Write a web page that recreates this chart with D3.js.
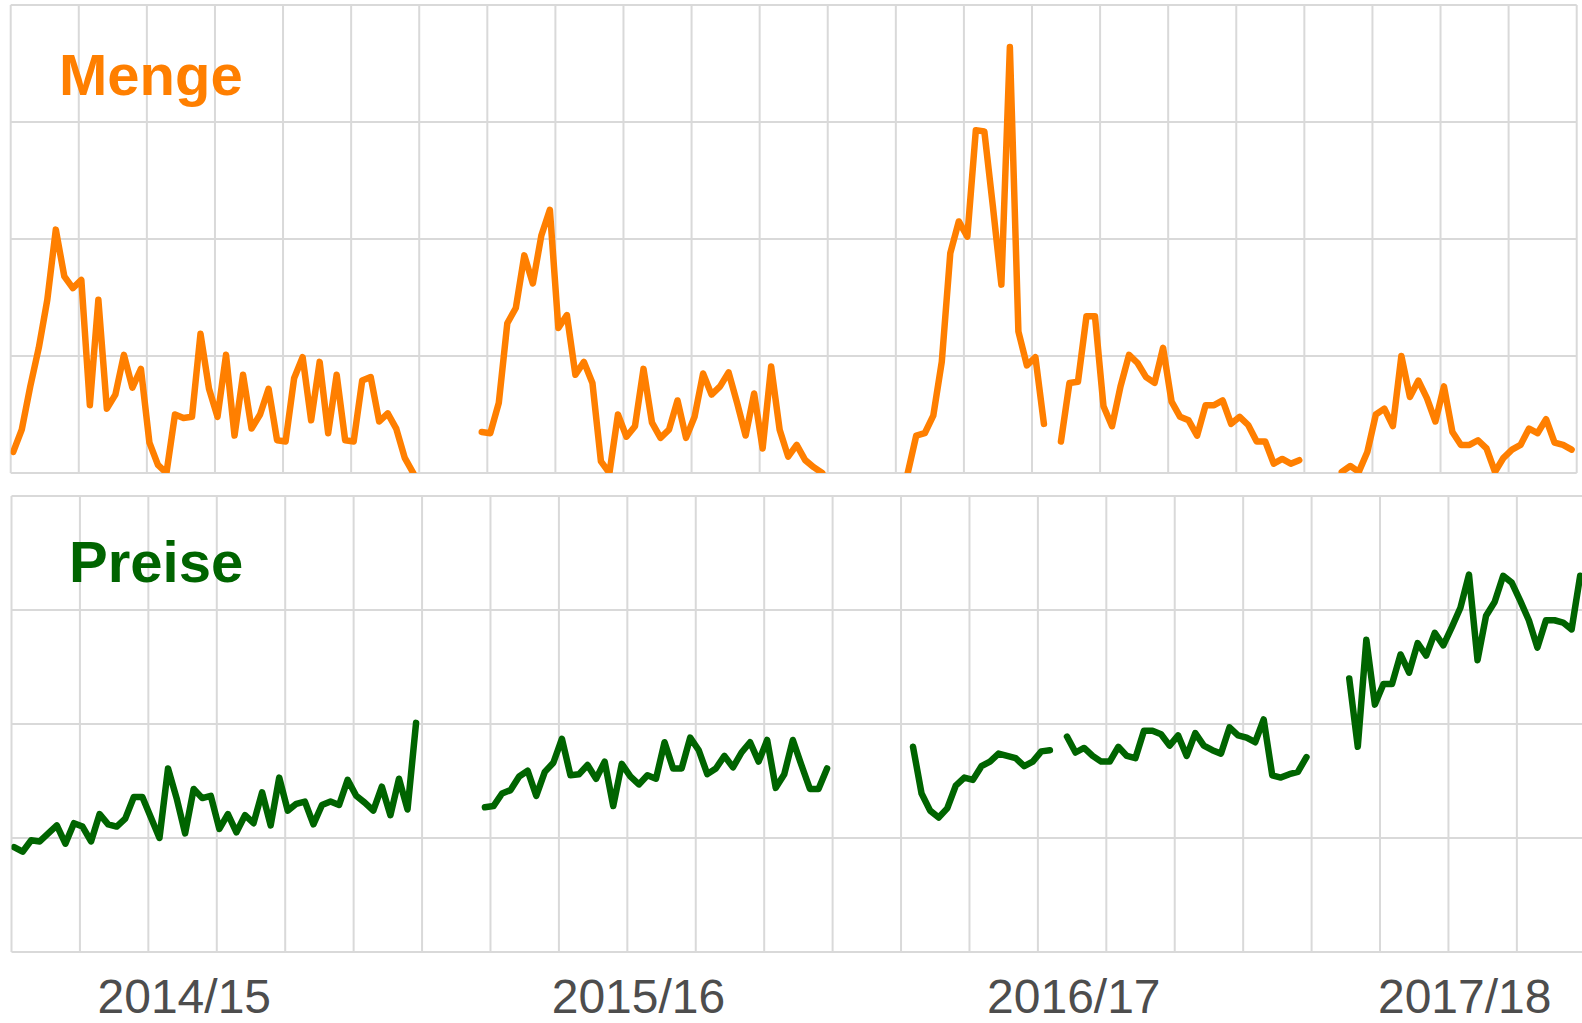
<!DOCTYPE html>
<html>
<head>
<meta charset="utf-8">
<script src="https://cdn.jsdelivr.net/npm/d3@7"></script>
<style>
  html, body { margin: 0; padding: 0; background: #fff; }
  text { font-family: "Liberation Sans", Arial, sans-serif; }
</style>
</head>
<body>
<svg id="chart" width="1582" height="1023"></svg>
<script>
// seasons and where (in weeks) they start on the x axis
const seasons = ["2014/15", "2015/16", "2016/17", "2017/18"];
const seasonStart = [0.3, 55.35, 105.4, 156.4];
const labelWeek = [20.2, 73.3, 124.2, 169.9];

// Menge (weekly), null = missing week
const mengeS1 = [18,37,74,107,148,208,168,158,165,58,148,55,67,101,73,89,26,7,0,50,47,48,119,72,48,101,32,84,38,50,72,28,27,81,99,45,95,34,84,28,27,79,82,44,51,38,13,0];
const mengeS2 = [35,34,60,128,141,186,162,203,225,124,135,84,95,77,10,0,50,31,40,89,43,30,37,62,30,48,85,67,74,86,60,32,68,21,91,37,14,24,11,5,0];
const mengeS3 = [0,32,34,49,95,188,215,202,293,292,228,161,364,121,92,99,42,null,27,77,78,134,134,57,40,74,101,94,82,77,107,61,48,45,32,58,58,62,42,48,41,27,27,8,12,8,11];
const mengeS4 = [1,6,1,18,50,55,40,100,65,79,64,44,74,35,24,24,28,21,1,13,20,24,38,34,46,26,24,20];

// Preise (weekly)
const preiseS1 = [0.92,0.88,0.98,0.97,1.04,1.11,0.95,1.13,1.10,0.97,1.21,1.12,1.10,1.17,1.36,1.36,1.18,1.00,1.61,1.35,1.04,1.43,1.35,1.37,1.08,1.21,1.05,1.20,1.13,1.40,1.11,1.53,1.24,1.30,1.32,1.12,1.29,1.32,1.29,1.51,1.37,1.31,1.24,1.45,1.20,1.52,1.25,2.01];
const preiseS2 = [1.27,1.28,1.39,1.42,1.54,1.59,1.37,1.58,1.66,1.87,1.55,1.56,1.64,1.52,1.67,1.28,1.65,1.54,1.47,1.55,1.52,1.84,1.61,1.61,1.88,1.77,1.56,1.61,1.72,1.62,1.75,1.84,1.67,1.86,1.44,1.56,1.86,1.64,1.43,1.43,1.61];
const preiseS3 = [1.80,1.39,1.24,1.18,1.26,1.46,1.53,1.51,1.63,1.67,1.74,1.72,1.70,1.63,1.67,1.76,1.77,null,1.89,1.75,1.79,1.72,1.67,1.67,1.80,1.72,1.70,1.94,1.94,1.91,1.81,1.90,1.72,1.92,1.81,1.77,1.74,1.97,1.90,1.88,1.84,2.04,1.55,1.53,1.56,1.58,1.71];
const preiseS4 = [2.40,1.80,2.74,2.17,2.35,2.35,2.61,2.45,2.71,2.60,2.80,2.69,2.85,3.02,3.31,2.56,2.95,3.07,3.30,3.24,3.08,2.91,2.67,2.91,2.91,2.89,2.83,3.30];

const mengeTicks = [0, 100, 200, 300, 400];
const preiseTicks = [0, 1, 2, 3, 4];
const weekTicks = d3.range(0, 185, 8);

const svg = d3.select("#chart");
svg.append("rect").attr("width", 1582).attr("height", 1023).attr("fill", "#fff");

const gridColor = "#d9d9d9";

// turn season arrays into {week, value} points
const toPoints = (arr, s) => arr.map((v, i) => ({ week: seasonStart[s] + i, value: v }));

let drawPanel = (opts) => {
  const { id, xScale, yScale, yTicks, series, color, title, titleX, titleY } = opts;
  const [x0, x1] = xScale.range();
  const [y0, y1] = yScale.range(); // bottom, top

  const g = svg.append("g").attr("class", id);

  g.append("clipPath").attr("id", "clip-" + id)
    .append("rect")
    .attr("x", x0).attr("y", y1)
    .attr("width", x1 - x0).attr("height", y0 - y1);

  // horizontal grid
  g.selectAll(".hgrid").data(yTicks).enter().append("line")
    .attr("x1", x0).attr("x2", x1)
    .attr("y1", d => yScale(d)).attr("y2", d => yScale(d))
    .attr("stroke", gridColor).attr("stroke-width", 2);

  // vertical grid
  g.selectAll(".vgrid").data(weekTicks).enter().append("line")
    .attr("x1", d => xScale(d)).attr("x2", d => xScale(d))
    .attr("y1", y1).attr("y2", y0)
    .attr("stroke", gridColor).attr("stroke-width", 2);

  g.append("text")
    .attr("x", titleX).attr("y", titleY)
    .attr("font-size", 58).attr("font-weight", "bold")
    .attr("fill", color)
    .text(title);

  const line = d3.line()
    .defined(d => d.value != null)
    .x(d => xScale(d.week))
    .y(d => yScale(d.value));

  g.append("g").attr("clip-path", `url(#clip-${id})`)
    .selectAll("path").data(series).enter().append("path")
    .attr("d", line)
    .attr("fill", "none")
    .attr("stroke", color)
    .attr("stroke-width", 6.5)
    .attr("stroke-linejoin", "round")
    .attr("stroke-linecap", "round");
};

// top panel: Menge
const xTop = d3.scaleLinear().domain([0, 184]).range([10.7, 1576.7]);
const yTop = d3.scaleLinear().domain([0, 400]).range([473, 5]);
drawPanel({
  id: "menge", xScale: xTop, yScale: yTop, yTicks: mengeTicks,
  series: [mengeS1, mengeS2, mengeS3, mengeS4].map(toPoints),
  color: "#ff7f00", title: "Menge", titleX: 59, titleY: 95
});

// bottom panel: Preise (runs past the right edge)
const xBot = d3.scaleLinear().domain([0, 184]).range([11.5, 1585.3]);
const yBot = d3.scaleLinear().domain([0, 4]).range([952, 496]);
drawPanel({
  id: "preise", xScale: xBot, yScale: yBot, yTicks: preiseTicks,
  series: [preiseS1, preiseS2, preiseS3, preiseS4].map(toPoints),
  color: "#006400", title: "Preise", titleX: 69, titleY: 582
});

// season labels under the bottom panel
svg.selectAll(".season").data(seasons).enter().append("text")
  .attr("class", "season")
  .attr("x", (d, i) => xBot(labelWeek[i]))
  .attr("y", 1013)
  .attr("text-anchor", "middle")
  .attr("font-size", 48)
  .attr("fill", "#4d4d4d")
  .text(d => d);
</script>
</body>
</html>
